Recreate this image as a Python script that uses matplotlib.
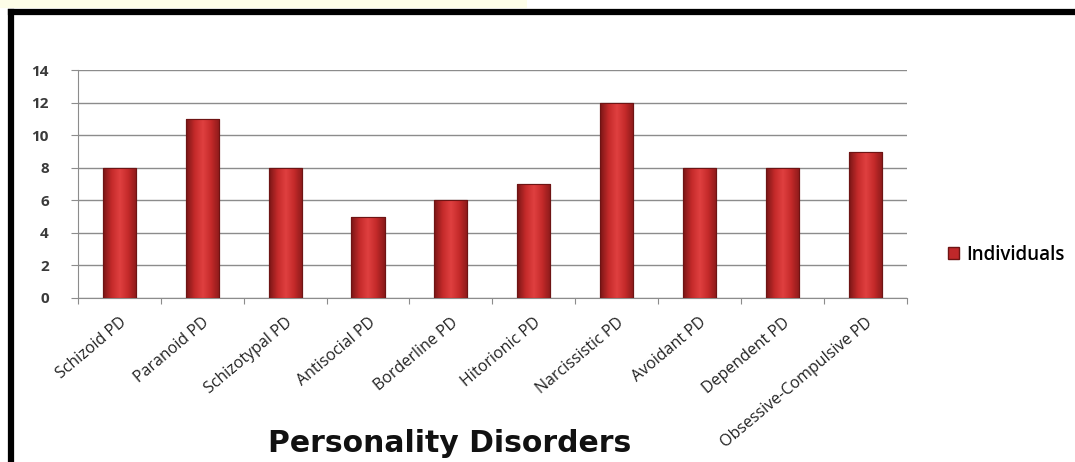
import numpy as np
import matplotlib.pyplot as plt
from matplotlib.patches import Rectangle
from matplotlib.colors import LinearSegmentedColormap
from matplotlib.lines import Line2D

# dados
categorias = ['Schizoid PD', 'Paranoid PD', 'Schizotypal PD', 'Antisocial PD',
              'Borderline PD', 'Hitorionic PD', 'Narcissistic PD', 'Avoidant PD',
              'Dependent PD', 'Obsessive-Compulsive PD']
valores = [8, 11, 8, 5, 6, 7, 12, 8, 8, 9]
serie = 'Individuals'
titulo_x = 'Personality Disorders'

plt.rcParams['font.family'] = ['Open Sans', 'DejaVu Sans']

fig = plt.figure(figsize=(10.75, 4.62), dpi=100)
ax = fig.add_axes([0.0725, 0.355, 0.771, 0.493])

x = np.arange(len(categorias))
barras = ax.bar(x, valores, width=0.4, color='#c0282a', edgecolor='#6e1414',
                linewidth=0.8, zorder=2)

# gradiente tipo cilindro em cada barra
cmap = LinearSegmentedColormap.from_list(
    'cil', ['#7a1616', '#c42a2a', '#e04040', '#c42a2a', '#8a1a1a'])
grad = np.linspace(0, 1, 64).reshape(1, -1)
for b in barras:
    x0, y0 = b.get_x(), b.get_y()
    w, h = b.get_width(), b.get_height()
    im = ax.imshow(grad, cmap=cmap, aspect='auto', extent=[x0, x0 + w, y0, y0 + h],
                   zorder=3, interpolation='bicubic')
    im.set_clip_path(b)
    ax.add_patch(Rectangle((x0, y0), w, h, fill=False, edgecolor='#6e1414',
                           linewidth=0.8, zorder=4))

ax.set_xlim(-0.5, len(categorias) - 0.5)
ax.set_ylim(0, 14)
ax.set_yticks(np.arange(0, 15, 2))
ax.yaxis.grid(True, color='#8c8c8c', linewidth=1.0, zorder=0)
ax.set_axisbelow(True)

for s in ['top', 'right']:
    ax.spines[s].set_visible(False)
ax.spines['left'].set_color('#8c8c8c')
ax.spines['bottom'].set_color('#8c8c8c')

ax.tick_params(axis='y', length=5, color='#8c8c8c', labelsize=11,
               labelcolor='#3a3a3a', pad=16)
ax.set_yticklabels([str(v) for v in range(0, 15, 2)], fontweight='bold')

ax.set_xticks(np.arange(-0.5, len(categorias), 1), minor=False)
ax.set_xticklabels([])
ax.tick_params(axis='x', length=4, color='#8c8c8c')
ax.set_xticks(x, minor=True)
ax.set_xticklabels(categorias, minor=True, rotation=40, ha='right',
                   rotation_mode='anchor', fontsize=11.5, color='#222222')
ax.tick_params(axis='x', which='minor', length=0, pad=12)

fig.text(0.418, 0.04, titulo_x, fontsize=21.5, fontweight='bold', ha='center',
         va='center', color='#111111', family='DejaVu Sans')

handle = Rectangle((0, 0), 1, 1, facecolor='#c0282a', edgecolor='#6e1414')
fig.legend([handle], [serie], loc='center left', bbox_to_anchor=(0.866, 0.449),
           frameon=False, prop={'size': 13.5, 'weight': 'semibold'},
           handlelength=0.6, handleheight=0.6, handletextpad=0.4)

# moldura preta e faixa superior
fig.patches.append(Rectangle((0, 0.982), 0.49, 0.018, transform=fig.transFigure,
                             facecolor='#fdfde8', edgecolor='none'))
fig.add_artist(Line2D([0.0102, 1.0], [0.974, 0.974], transform=fig.transFigure,
                      color='black', linewidth=4.5))
fig.add_artist(Line2D([0.0102, 0.0102], [0.0, 0.974], transform=fig.transFigure,
                      color='black', linewidth=4.5))

fig.savefig('out.png', dpi=100)
